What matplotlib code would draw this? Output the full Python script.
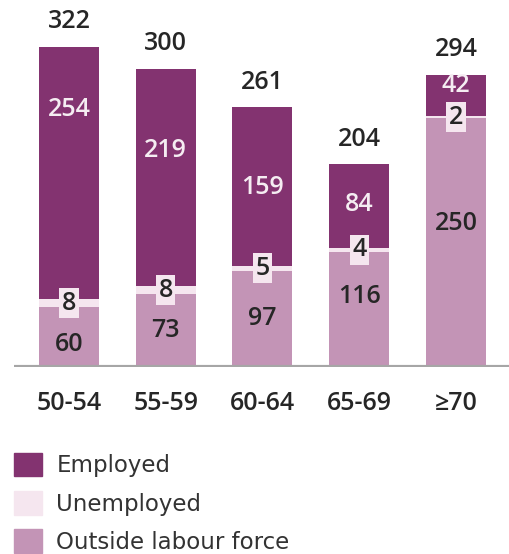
import matplotlib
matplotlib.use("Agg")
import matplotlib.pyplot as plt
from matplotlib.patches import Patch

# data
ages = ["50-54", "55-59", "60-64", "65-69", "≥70"]
employed = [254, 219, 159, 84, 42]
unemployed = [8, 8, 5, 4, 2]
outside = [60, 73, 97, 116, 250]
totals = [322, 300, 261, 204, 294]

# where the in-bar numbers sit (data units)
emp_label_y = [259, 218, 180, 163, 283]
out_label_y = [23, 37, 49, 71, 144]

c_emp = "#833370"
c_unemp = "#f5e6ef"
c_out = "#c394b6"
txt = "#262626"

plt.rcParams["font.family"] = ["Open Sans", "DejaVu Sans"]
num = dict(fontsize=18, fontweight="semibold")

fig = plt.figure(figsize=(5.1, 5.54), dpi=100)
ax = fig.add_axes([14 / 510, 1 - 367 / 554, 1 - 14 / 510, 367 / 554])

x = range(len(ages))
w = 0.62
ax.bar(x, outside, w, color=c_out)
ax.bar(x, unemployed, w, bottom=outside, color=c_unemp)
bottoms = [o + u for o, u in zip(outside, unemployed)]
ax.bar(x, employed, w, bottom=bottoms, color=c_emp)

for i in x:
    ax.annotate(str(totals[i]), (i, totals[i]), xytext=(0, 18), textcoords="offset points",
                ha="center", va="center", color=txt, **num)
    ax.text(i, emp_label_y[i], str(employed[i]), ha="center", va="center",
            color="#f5edf2", **num)
    ax.text(i, out_label_y[i], str(outside[i]), ha="center", va="center",
            color=txt, **num)
    ax.text(i, outside[i] + unemployed[i] / 2, str(unemployed[i]), ha="center", va="center",
            color=txt, bbox=dict(boxstyle="square,pad=0.1", fc=c_unemp, ec="none"), **num)

ax.axhline(0, color="#a6a6a6", lw=3, zorder=5)
ax.set_xlim(-0.568, 4.558)
ax.set_ylim(0, 369)
ax.set_xticks(list(x), ages)
ax.tick_params(axis="x", length=0, pad=17, labelsize=18, labelcolor=txt)
for lab in ax.get_xticklabels():
    lab.set_fontweight("semibold")
ax.set_yticks([])
for s in ax.spines.values():
    s.set_visible(False)

handles = [Patch(color=c_emp), Patch(color=c_unemp), Patch(color=c_out)]
fig.legend(handles, ["Employed", "Unemployed", "Outside labour force"],
           loc="upper left", bbox_to_anchor=(14 / 510, 1 - 453 / 554), frameon=False,
           prop={"family": "DejaVu Sans", "size": 16.5}, handlelength=1.2, handleheight=1.2,
           labelspacing=0.6, handletextpad=0.65, borderpad=0, borderaxespad=0,
           labelcolor="#333333")

fig.savefig("out.png", dpi=100)
